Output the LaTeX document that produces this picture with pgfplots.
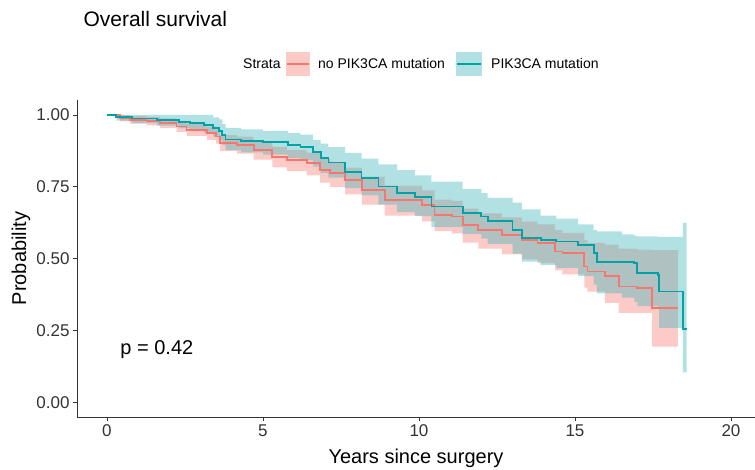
\documentclass[border=0pt]{standalone}
\usepackage{fontspec}
\setmainfont{Liberation Sans}
\usepackage{pgfplots}
\pgfplotsset{compat=1.18}
\usepgfplotslibrary{fillbetween}
\usepackage{pgfplotstable}

\definecolor{ggred}{HTML}{F8766D}
\definecolor{ggteal}{HTML}{00BFC4}
\definecolor{tealband}{HTML}{3DB5B8}

% no PIK3CA mutation: time, survival, lower, upper
\pgfplotstableread{
t s lo hi
0.00 1.000 1.000 1.000
0.42 0.990 0.978 1.000
0.74 0.983 0.970 0.996
1.27 0.979 0.964 0.993
1.70 0.971 0.954 0.988
2.23 0.960 0.941 0.979
2.55 0.948 0.927 0.969
3.20 0.936 0.913 0.959
3.50 0.925 0.900 0.950
3.62 0.902 0.875 0.930
4.16 0.896 0.866 0.925
4.70 0.878 0.845 0.910
5.30 0.855 0.818 0.889
5.77 0.844 0.805 0.879
6.40 0.832 0.790 0.869
6.83 0.809 0.765 0.848
7.15 0.797 0.750 0.837
7.63 0.774 0.724 0.817
8.17 0.740 0.688 0.786
8.90 0.705 0.650 0.754
10.10 0.688 0.630 0.738
10.50 0.653 0.596 0.706
11.06 0.647 0.588 0.701
11.40 0.618 0.556 0.674
11.90 0.600 0.535 0.658
12.66 0.583 0.515 0.644
13.30 0.566 0.498 0.629
13.80 0.556 0.485 0.620
14.36 0.525 0.460 0.600
14.60 0.520 0.446 0.590
15.30 0.473 0.400 0.565
15.40 0.456 0.386 0.555
15.96 0.439 0.347 0.549
16.40 0.404 0.312 0.535
17.00 0.399 0.312 0.532
17.47 0.330 0.195 0.530
18.30 0.330 0.195 0.530
}\nomut

% PIK3CA mutation: time, survival, lower, upper
\pgfplotstableread{
t s lo hi
0.00 1.000 1.000 1.000
0.30 0.993 0.980 1.000
0.80 0.988 0.972 1.000
1.60 0.982 0.963 1.000
2.30 0.975 0.953 1.000
2.65 0.972 0.948 1.000
3.10 0.965 0.938 1.000
3.40 0.955 0.925 0.992
3.60 0.945 0.912 0.985
3.70 0.930 0.895 0.968
3.80 0.915 0.878 0.955
4.30 0.910 0.870 0.950
5.00 0.905 0.862 0.945
5.80 0.895 0.850 0.938
6.20 0.888 0.842 0.932
6.60 0.870 0.820 0.913
6.85 0.850 0.798 0.900
7.10 0.835 0.782 0.888
7.63 0.803 0.746 0.868
8.16 0.780 0.720 0.848
8.70 0.751 0.688 0.828
9.30 0.728 0.662 0.808
9.87 0.716 0.648 0.790
10.40 0.682 0.610 0.768
11.40 0.660 0.586 0.742
12.00 0.647 0.570 0.728
12.20 0.630 0.552 0.712
13.00 0.600 0.518 0.695
13.30 0.573 0.490 0.672
13.90 0.566 0.478 0.650
14.40 0.560 0.468 0.640
15.10 0.549 0.440 0.620
15.60 0.520 0.410 0.600
15.70 0.490 0.380 0.595
16.50 0.490 0.365 0.585
16.90 0.486 0.350 0.580
17.00 0.451 0.335 0.578
17.66 0.444 0.325 0.576
17.70 0.386 0.260 0.576
18.46 0.255 0.105 0.625
18.58 0.255 0.105 0.625
}\mut

\begin{document}
\begin{tikzpicture}
  \begin{axis}[
      at={(0,0)}, anchor=south west,
      scale only axis,
      width=678bp, height=317bp,
      xmin=-0.96, xmax=20.77,
      ymin=-0.05, ymax=1.052,
      axis x line*=bottom,
      axis y line*=left,
      axis line style={-, line width=0.9bp, black!80},
      xtick={0,5,10,15,20},
      ytick={0,0.25,0.5,0.75,1},
      tick align=outside,
      major tick length=4bp,
      tick style={line width=0.9bp, black!80},
      ticklabel style={font=\fontsize{17bp}{20bp}\selectfont, black!80},
      /pgf/number format/assume math mode=true,
      yticklabel style={/pgf/number format/.cd, fixed, fixed zerofill, precision=2},
      xlabel={Years since surgery},
      ylabel={Probability},
      label style={font=\fontsize{20bp}{24bp}\selectfont},
      xlabel style={at={(axis description cs:0.5,-0.148)}, anchor=base},
      ylabel style={at={(axis description cs:-0.0752,0.5)}, anchor=base},
      clip=false,
  ]
  % no PIK3CA mutation
  \addplot[const plot, draw=none, name path=ru] table[x=t, y=hi] {\nomut};
  \addplot[const plot, draw=none, name path=rl] table[x=t, y=lo] {\nomut};
  \addplot[fill=ggred, fill opacity=0.38, draw=none] fill between[of=ru and rl];
  \addplot[const plot, ggred, line width=1.8bp] table[x=t, y=s] {\nomut};

  % PIK3CA mutation
  \addplot[const plot, draw=none, name path=tu] table[x=t, y=hi] {\mut};
  \addplot[const plot, draw=none, name path=tl] table[x=t, y=lo] {\mut};
  \addplot[fill=tealband, fill opacity=0.4, draw=none] fill between[of=tu and tl];
  \addplot[const plot, ggteal!85!black, line width=1.8bp] table[x=t, y=s] {\mut};

  \node[font=\fontsize{20bp}{24bp}\selectfont] at (axis cs:1.6,0.184) {p = 0.42};
  \end{axis}

  % title
  \node[anchor=base west, font=\fontsize{21bp}{25bp}\selectfont] at (3bp,390bp) {Overall survival};

  % legend
  \begin{scope}[font=\fontsize{14bp}{17bp}\selectfont]
    \node[anchor=base west, inner sep=0pt] at (166bp,348bp) {Strata};
    \fill[ggred, opacity=0.38] (209bp,341bp) rectangle (233bp,365bp);
    \draw[ggred, line width=1.8bp] (210bp,353bp) -- (232bp,353bp);
    \node[anchor=base west, inner sep=0pt] at (241bp,348bp) {no PIK3CA mutation};
    \fill[tealband, opacity=0.4] (379bp,341bp) rectangle (405bp,365bp);
    \draw[ggteal!85!black, line width=1.8bp] (380bp,353bp) -- (404bp,353bp);
    \node[anchor=base west, inner sep=0pt] at (414bp,348bp) {PIK3CA mutation};
  \end{scope}

  \pgfresetboundingbox
  \path[use as bounding box] (-77bp,-53bp) rectangle (678bp,417bp);
\end{tikzpicture}
\end{document}
